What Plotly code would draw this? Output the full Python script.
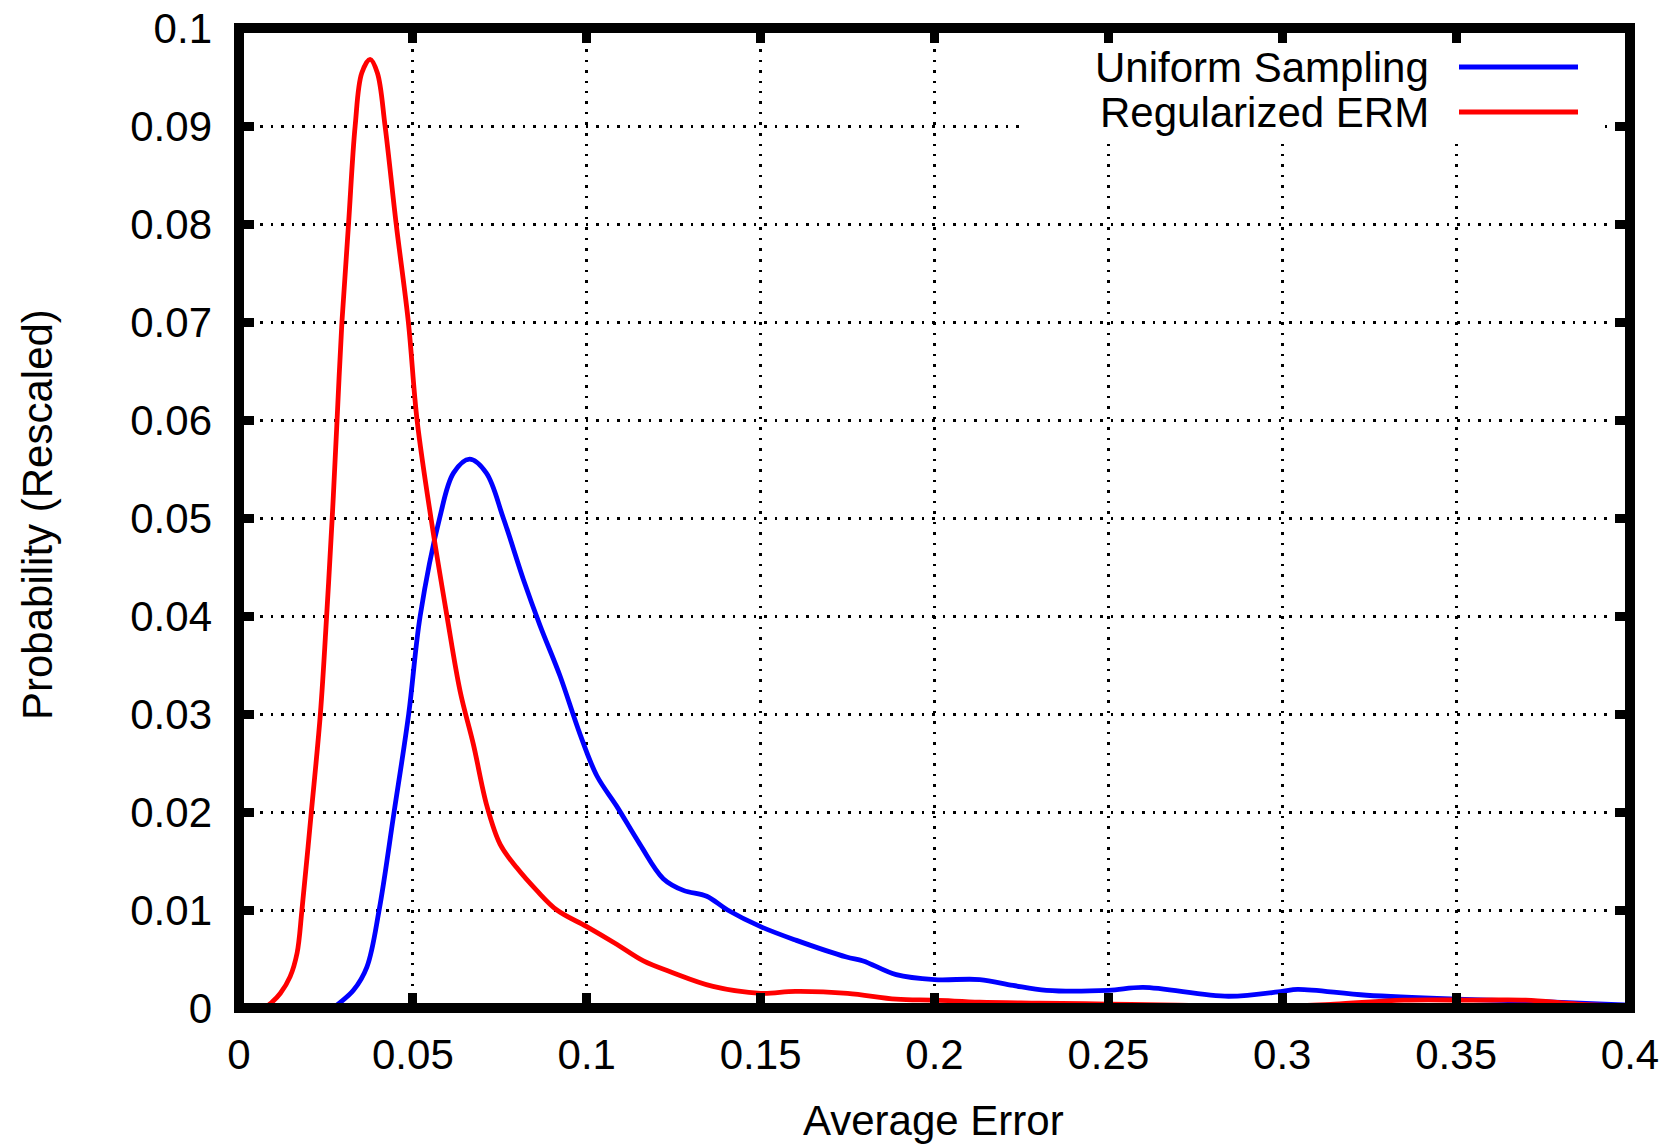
import plotly.graph_objects as go

# ---- data ----
erm_x = [0.000, 0.004, 0.0075, 0.0095, 0.0119, 0.0147, 0.0167, 0.0181, 0.0208, 0.0234,
         0.0252, 0.0268, 0.0282, 0.0296, 0.0315, 0.0334, 0.0353, 0.0377, 0.0398, 0.0420,
         0.0452, 0.0487, 0.0512, 0.0552, 0.0598, 0.0636, 0.0674, 0.0713, 0.0751, 0.0799,
         0.0856, 0.0914, 0.100, 0.1086, 0.1163, 0.124, 0.1363, 0.150, 0.160, 0.175,
         0.189, 0.200, 0.213, 0.230, 0.250, 0.270, 0.300, 0.315, 0.335, 0.355,
         0.370, 0.385, 0.400]
erm_y = [0.0, 0.0, 0.0001, 0.0006, 0.0015, 0.0032, 0.0056, 0.0100, 0.0200, 0.0300,
         0.0400, 0.0500, 0.0600, 0.0700, 0.0800, 0.0900, 0.0954, 0.0968, 0.0954, 0.0900,
         0.0800, 0.0700, 0.0600, 0.0500, 0.0400, 0.0323, 0.0269, 0.0206, 0.0167, 0.0143,
         0.0120, 0.0100, 0.0083, 0.0065, 0.0048, 0.0037, 0.0022, 0.0015, 0.0017, 0.0015,
         0.0009, 0.0008, 0.0006, 0.0005, 0.0004, 0.0003, 0.0002, 0.0004, 0.0008, 0.0008,
         0.0008, 0.0004, 0.0002]

uni_x = [0.000, 0.024, 0.0272, 0.0292, 0.0329, 0.0368, 0.0403, 0.0446, 0.0488, 0.0521,
         0.0577, 0.0617, 0.0663, 0.0711, 0.0760, 0.0818, 0.0866, 0.0923, 0.098, 0.1029,
         0.1086, 0.1153, 0.122, 0.1278, 0.1345, 0.1405, 0.150, 0.1603, 0.1747, 0.1795,
         0.189, 0.200, 0.213, 0.2226, 0.2322, 0.250, 0.260, 0.2845, 0.300, 0.3044,
         0.3242, 0.350, 0.3712, 0.400]
uni_y = [0.0, 0.0, 0.0001, 0.0006, 0.0018, 0.0042, 0.0100, 0.0200, 0.0300, 0.0400,
         0.0500, 0.0546, 0.0560, 0.0546, 0.0500, 0.0437, 0.0390, 0.0339, 0.0280, 0.0237,
         0.0206, 0.0167, 0.0132, 0.0120, 0.0114, 0.0100, 0.0083, 0.0069, 0.0052, 0.0048,
         0.0034, 0.0029, 0.0029, 0.0023, 0.0018, 0.0018, 0.0021, 0.0012, 0.0017, 0.0019,
         0.0013, 0.0009, 0.0007, 0.0003]

x_ticks = [0, 0.05, 0.1, 0.15, 0.2, 0.25, 0.3, 0.35, 0.4]
x_labels = ["0", "0.05", "0.1", "0.15", "0.2", "0.25", "0.3", "0.35", "0.4"]
y_ticks = [0, 0.01, 0.02, 0.03, 0.04, 0.05, 0.06, 0.07, 0.08, 0.09, 0.1]
y_labels = ["0", "0.01", "0.02", "0.03", "0.04", "0.05", "0.06", "0.07", "0.08", "0.09", "0.1"]

series_names = ["Uniform Sampling", "Regularized ERM"]
series_colors = ["#0000ff", "#ff0000"]

FONT = "Liberation Sans, Arial, Helvetica, sans-serif"
W, H = 1670, 1147
L, R, T, B = 239, 40, 28, 139
PW, PH = W - L - R, H - T - B


def px(xp):
    return (xp - L) / PW


def py(yp):
    return (H - B - yp) / PH


fig = go.Figure()
fig.add_trace(go.Scatter(x=uni_x, y=uni_y, mode="lines", name=series_names[0],
                         line=dict(color=series_colors[0], width=4.8, shape="spline", smoothing=1.0),
                         showlegend=False))
fig.add_trace(go.Scatter(x=erm_x, y=erm_y, mode="lines", name=series_names[1],
                         line=dict(color=series_colors[1], width=4.8, shape="spline", smoothing=1.0),
                         showlegend=False))

axis_common = dict(
    showline=False, zeroline=False, showgrid=True, automargin=False,
    gridcolor="black", gridwidth=2.5, griddash="2.5px,8px",
    ticks="inside", ticklen=15, tickwidth=9, tickcolor="black", mirror="ticks",
    tickfont=dict(family=FONT, size=42, color="black"),
)

fig.update_xaxes(range=[0, 0.4], tickvals=x_ticks, ticktext=x_labels,
                 ticklabelstandoff=18, **axis_common)
fig.update_yaxes(range=[0, 0.1], tickvals=y_ticks, ticktext=y_labels,
                 ticklabelstandoff=26, **axis_common)

shapes = [
    # opaque legend box
    dict(type="rect", xref="paper", yref="paper", x0=px(1020), x1=px(1605), y0=py(137), y1=py(44),
         fillcolor="white", line=dict(width=0), layer="above"),
    dict(type="line", xref="paper", yref="paper", x0=px(1459), x1=px(1578), y0=py(67), y1=py(67),
         line=dict(color=series_colors[0], width=4.8), layer="above"),
    dict(type="line", xref="paper", yref="paper", x0=px(1459), x1=px(1578), y0=py(112), y1=py(112),
         line=dict(color=series_colors[1], width=4.8), layer="above"),
    # frame
    dict(type="rect", xref="paper", yref="paper", x0=0, x1=1, y0=0, y1=1,
         line=dict(color="black", width=10), fillcolor="rgba(0,0,0,0)", layer="above"),
]

annotations = [
    dict(text=series_names[0], xref="paper", yref="paper", x=px(1431), y=py(67),
         xanchor="right", yanchor="middle", showarrow=False,
         font=dict(family=FONT, size=42, color="black")),
    dict(text=series_names[1], xref="paper", yref="paper", x=px(1431), y=py(112),
         xanchor="right", yanchor="middle", showarrow=False,
         font=dict(family=FONT, size=42, color="black")),
    dict(text="Average Error", xref="paper", yref="paper", x=px(933), y=py(1120),
         xanchor="center", yanchor="middle", showarrow=False,
         font=dict(family=FONT, size=42, color="black")),
    dict(text="Probability (Rescaled)", xref="paper", yref="paper", x=px(37), y=py(515),
         xanchor="center", yanchor="middle", showarrow=False, textangle=-90,
         font=dict(family=FONT, size=42, color="black")),
]

fig.update_layout(
    width=W, height=H, autosize=False,
    margin=dict(l=L, r=R, t=T, b=B, pad=0, autoexpand=False),
    paper_bgcolor="white", plot_bgcolor="white",
    shapes=shapes, annotations=annotations,
    font=dict(family=FONT, size=42, color="black"),
    showlegend=False,
)

fig.write_html("out.html")
